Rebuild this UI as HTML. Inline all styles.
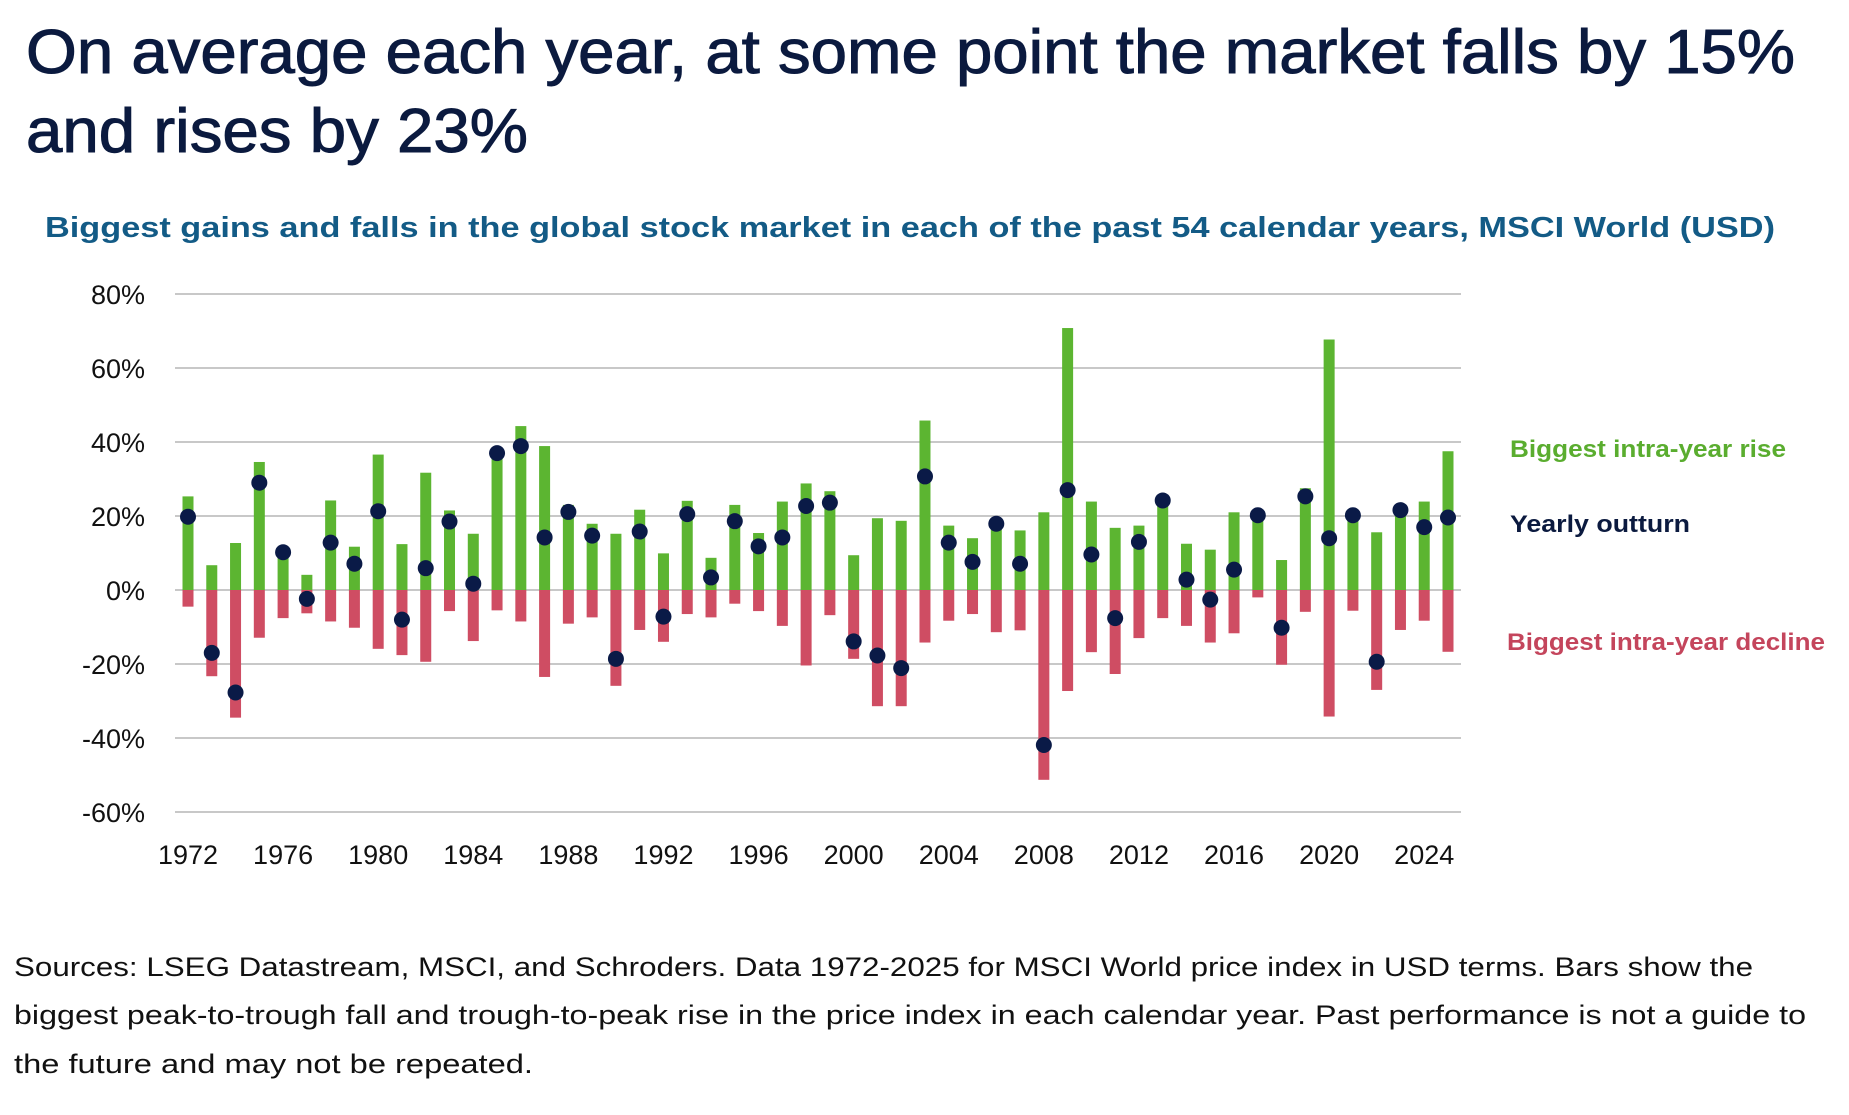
<!DOCTYPE html>
<html><head><meta charset="utf-8"><style>
html,body{margin:0;padding:0;background:#fff;}
svg{display:block;}
</style></head><body>
<svg id="chart" width="1849" height="1115" viewBox="0 0 1849 1115" xmlns="http://www.w3.org/2000/svg">
<text x="26" y="73" font-family="Liberation Sans, sans-serif" font-size="62" fill="#0b1a3f" stroke="#0b1a3f" stroke-width="1" textLength="1769" lengthAdjust="spacingAndGlyphs">On average each year, at some point the market falls by 15%</text>
<text x="26" y="152" font-family="Liberation Sans, sans-serif" font-size="62" fill="#0b1a3f" stroke="#0b1a3f" stroke-width="1" textLength="502" lengthAdjust="spacingAndGlyphs">and rises by 23%</text>
<text x="45" y="237" font-family="Liberation Sans, sans-serif" font-size="29" font-weight="bold" fill="#135b86" textLength="1730" lengthAdjust="spacingAndGlyphs">Biggest gains and falls in the global stock market in each of the past 54 calendar years, MSCI World (USD)</text>
<g id="grid"></g>
<g id="bars"></g>
<g id="dots"></g>
<g id="labels"></g>
<text x="1510" y="457" font-family="Liberation Sans, sans-serif" font-size="24" font-weight="bold" fill="#5aad2f" textLength="276" lengthAdjust="spacingAndGlyphs">Biggest intra-year rise</text>
<text x="1510" y="532" font-family="Liberation Sans, sans-serif" font-size="24" font-weight="bold" fill="#0b1a3f" textLength="180" lengthAdjust="spacingAndGlyphs">Yearly outturn</text>
<text x="1507" y="650" font-family="Liberation Sans, sans-serif" font-size="24" font-weight="bold" fill="#c4455c" textLength="318" lengthAdjust="spacingAndGlyphs">Biggest intra-year decline</text>
<g font-family="Liberation Sans, sans-serif" font-size="27" fill="#111">
<text x="14" y="976" textLength="1739" lengthAdjust="spacingAndGlyphs">Sources: LSEG Datastream, MSCI, and Schroders.  Data 1972-2025 for MSCI World price index in USD terms.  Bars show the</text>
<text x="14" y="1024" textLength="1792" lengthAdjust="spacingAndGlyphs">biggest peak-to-trough fall and trough-to-peak rise in the price index in each calendar year.  Past performance is not a guide to</text>
<text x="14" y="1073" textLength="519" lengthAdjust="spacingAndGlyphs">the future and may not be repeated.</text>
</g>
</svg>
<script>
const years = [];
for (let y = 1972; y <= 2025; y++) years.push(y);
const rises = [25.3,6.7,12.7,34.6,10,4.1,24.2,11.7,36.6,12.4,31.7,21.5,15.2,38,44.3,38.9,23,17.9,15.2,21.7,9.9,24.1,
 8.7,23,15.4,23.9,28.8,26.7,9.4,19.4,18.7,45.8,17.4,14,19,16.1,21,70.8,23.9,16.8,17.4,25,12.5,10.9,21,21,8.1,27.5,67.7,21,15.6,22.4,23.9,37.5];
const declines = [-4.5,-23.3,-34.5,-12.9,-7.6,-6.3,-8.5,-10.2,-15.9,-17.6,-19.4,-5.7,-13.8,-5.5,-8.5,-23.5,-9.1,-7.4,-25.9,-10.8,-14,-6.5,
 -7.4,-3.7,-5.7,-9.7,-20.4,-6.8,-18.6,-31.4,-31.4,-14.2,-8.3,-6.5,-11.4,-10.9,-51.3,-27.3,-16.8,-22.7,-13,-7.6,-9.7,-14.2,-11.7,-2,-20.2,-5.9,-34.2,-5.6,-27,-10.8,-8.3,-16.7];
const outturns = [19.8,-17,-27.7,29,10.2,-2.4,12.8,7.1,21.3,-8,5.9,18.5,1.7,37,38.9,14.2,21.1,14.7,-18.6,15.8,-7.2,20.5,
 3.4,18.6,11.8,14.2,22.7,23.6,-13.9,-17.7,-21.1,30.7,12.8,7.6,17.9,7.1,-41.9,27,9.6,-7.6,13,24.2,2.8,-2.6,5.5,20.2,-10.2,25.3,14,20.2,-19.4,21.6,17,19.6];
const yTicks = [80,60,40,20,0,-20,-40,-60];
const xTickYears = [1972,1976,1980,1984,1988,1992,1996,2000,2004,2008,2012,2016,2020,2024];

const NS = 'http://www.w3.org/2000/svg';
const yScale = v => 590 - v * 3.7;
const xScale = yr => 188 + (yr - 1972) * (1448 - 188) / 53;
function mk(tag, attrs, parent) {
  const e = document.createElementNS(NS, tag);
  for (const k in attrs) e.setAttribute(k, attrs[k]);
  parent.appendChild(e); return e;
}
const grid = document.getElementById('grid'), bars = document.getElementById('bars'),
      dots = document.getElementById('dots'), labels = document.getElementById('labels');
yTicks.forEach(t => {
  const l = mk('line', {x1:175, x2:1461, y1:yScale(t), y2:yScale(t), stroke:'#b5b5b5', 'stroke-width':1.5}, grid);
  
  
  const tx = mk('text', {x:145, y:yScale(t)+10, 'text-anchor':'end', 'font-family':'Liberation Sans, sans-serif', 'font-size':27, fill:'#111'}, labels);
  tx.textContent = t + '%';
  
  
});
xTickYears.forEach(yr => {
  const tx = mk('text', {x:xScale(yr), y:864, 'text-anchor':'middle', 'font-family':'Liberation Sans, sans-serif', 'font-size':27, fill:'#111'}, labels);
  tx.textContent = yr;
  
  
});
years.forEach((yr, i) => {
  const x = xScale(yr), w = 11;
  const g = mk('rect', {x:x-w/2, y:yScale(rises[i]), width:w, height:yScale(0)-yScale(rises[i]), fill:'#5cb531'}, bars);
  
  
  const r = mk('rect', {x:x-w/2, y:yScale(0), width:w, height:yScale(declines[i])-yScale(0), fill:'#cf4d63'}, bars);
  
  
  const c = mk('circle', {cx:x, cy:yScale(outturns[i]), r:8, fill:'#0a1a47'}, dots);
  
  
});
</script>
</body></html>
